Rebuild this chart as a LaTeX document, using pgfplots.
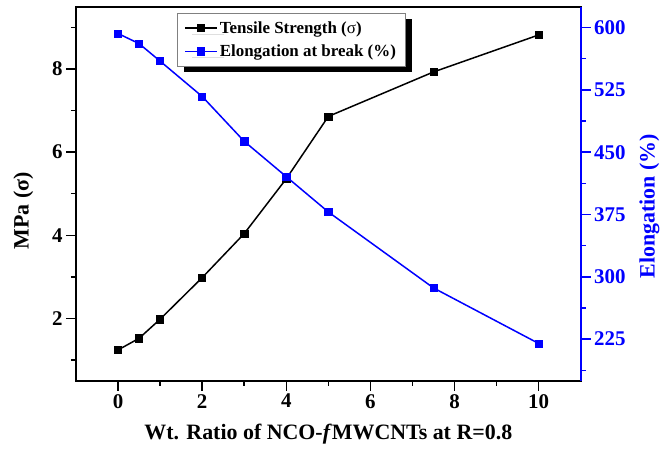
\documentclass[border=0pt]{standalone}
\usepackage{fontspec}
\setmainfont{Liberation Serif}
\usepackage{pgfplots}
\usepackage{pgfplotstable}
\pgfplotsset{compat=1.18}
\usetikzlibrary{shadows}
\definecolor{elong}{RGB}{0,0,255}

% tensile strength (MPa) vs wt. ratio
\pgfplotstableread{
x sigma
0 1.24
0.5 1.52
1 1.98
2 2.98
3 4.04
4 5.36
5 6.86
7.5 7.93
10 8.82
}\tensile

% elongation at break (%) vs wt. ratio
\pgfplotstableread{
x elong
0 592.7
0.5 580.6
1 559.5
2 517
3 463
4 420.5
5 378
7.5 286.6
10 219.8
}\elongation

\begin{document}
\begin{tikzpicture}
\useasboundingbox (-76bp,-75.3bp) rectangle (587bp,380.7bp);
\pgfplotsset{
  every axis/.append style={
    scale only axis, width=504.7bp, height=374bp,
    xmin=-1, xmax=11,
    tick align=outside,
    major tick length=10bp, minor tick length=5bp,
    axis line style={line width=2bp},
    tick label style={font=\fontsize{21}{24}\selectfont\bfseries},
    label style={font=\fontsize{22}{26}\selectfont\bfseries},
    /pgf/number format/assume math mode=true,
  }
}
\begin{axis}[
  ymin=0.5, ymax=9.5,
  xtick={0,2,4,6,8,10}, minor xtick={1,3,5,7,9},
  ytick={2,4,6,8}, minor ytick={1,3,5,7,9},
  xtick pos=bottom, ytick pos=left,
  tick style={black, line width=1.5bp},
  xlabel={Wt. Ratio of NCO-\textit{f}MWCNTs at R=0.8},
  xlabel style={yshift=-9bp},
  ylabel={MPa (σ)},
  ylabel style={at={(ticklabel cs:0.454)}, yshift=12bp},
]
\addplot[black, line width=1.5bp, mark=square*, mark size=3.6bp,
  mark options={line width=0.6bp}] table[x=x,y=sigma]{\tensile};
\end{axis}
\begin{axis}[
  ymin=175, ymax=625,
  axis x line=none, axis y line*=right,
  y axis line style={elong, line width=2bp},
  ytick={225,300,375,450,525,600},
  minor ytick={187.5,262.5,337.5,412.5,487.5,562.5},
  tick style={elong, line width=1.5bp},
  yticklabel style={text=elong},
  ylabel={Elongation (\%)},
  ylabel style={text=elong, at={(ticklabel cs:0.467)}, yshift=-7bp},
  legend cell align=left,
  legend style={at={(0.2,0.983)}, anchor=north west, draw=gray,
    line width=0.8bp, fill=white,
    font=\fontsize{17}{20}\selectfont\bfseries,
    drop shadow={shadow xshift=7bp, shadow yshift=-6bp, fill=black, opacity=1, draw=none},
    inner xsep=7bp, inner ysep=6bp, row sep=6bp},
  legend image code/.code={%
    \draw[#1, mark repeat=2, mark phase=2]
      plot coordinates {(0bp,0bp) (16bp,0bp) (32bp,0bp)};},
  every even column/.style={column sep=3bp},
]
\addlegendimage{black, line width=1.5bp, mark=square*, mark size=3.6bp, mark options={line width=0.6bp}}
\addlegendentry{Tensile Strength (\textmd{σ})}
\addplot[elong, line width=1.5bp, mark=square*, mark size=3.6bp,
  mark options={line width=0.6bp}] table[x=x,y=elong]{\elongation};
\addlegendentry{Elongation at break (\%)}
\end{axis}
\end{tikzpicture}
\end{document}
